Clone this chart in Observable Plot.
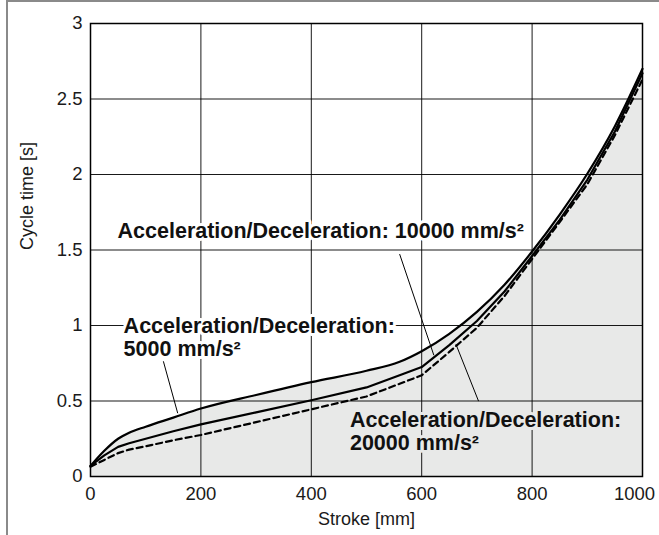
<!DOCTYPE html>
<html>
<head>
<meta charset="utf-8">
<script src="https://cdn.jsdelivr.net/npm/d3@7"></script>
<script src="https://cdn.jsdelivr.net/npm/@observablehq/plot@0.6"></script>
<style>
  html, body { margin: 0; padding: 0; background: #fff; }
  #wrap { position: relative; width: 659px; height: 535px; overflow: hidden; }
  #border { position: absolute; left: 6px; top: 0; right: -10px; bottom: -10px;
            border-top: 2px solid #8a8a8a; border-left: 2px solid #8a8a8a; pointer-events: none; }
</style>
</head>
<body>
<div id="wrap"><div id="border"></div></div>
<script>
// Data
const strokeMm = [0, 25, 50, 70, 100, 150, 200, 300, 400, 500, 560, 600, 650, 700, 750, 800, 850, 900, 950, 1000];
const time5000  = [0.07, 0.17, 0.25, 0.29, 0.33, 0.39, 0.45, 0.54, 0.625, 0.70, 0.76, 0.83, 0.945, 1.09, 1.27, 1.49, 1.735, 2.005, 2.32, 2.70];
const time10000 = [0.07, 0.14, 0.196, 0.22, 0.25, 0.30, 0.345, 0.425, 0.505, 0.59, 0.671, 0.725, 0.87, 1.03, 1.225, 1.46, 1.70, 1.965, 2.285, 2.67];
const time20000 = [0.065, 0.11, 0.155, 0.178, 0.20, 0.24, 0.275, 0.36, 0.445, 0.53, 0.614, 0.67, 0.825, 0.985, 1.195, 1.44, 1.685, 1.935, 2.26, 2.63];

const xTicksMain = [0, 200, 400, 600, 800];
const xTickLast = [1000];
const yTicks = [0, 0.5, 1, 1.5, 2, 2.5, 3];
const xTitle = "Stroke [mm]";
const yTitle = "Cycle time [s]";

// Annotation labels (anchor in data units) and their leader lines
const labelText = ["Acceleration/Deceleration: 10000 mm/s²", "Acceleration/Deceleration:\n5000 mm/s²", "Acceleration/Deceleration:\n20000 mm/s²"];
const labelX = [49, 60, 470];
const labelY = [1.69, 1.058, 0.44];
const labelHalo = ["white", "white", "#e8e9e8"];
const leaderX1 = [560, 132, 703];
const leaderY1 = [1.473, 0.763, 0.499];
const leaderX2 = [622, 158, 662];
const leaderY2 = [0.803, 0.419, 0.876];

const s5000 = strokeMm.map((x, i) => ({x, y: time5000[i]}));
const s10000 = strokeMm.map((x, i) => ({x, y: time10000[i]}));
const s20000 = strokeMm.map((x, i) => ({x, y: time20000[i]}));
const labels = labelText.map((t, i) => ({t, x: labelX[i], y: labelY[i], halo: labelHalo[i]}));
const leaders = leaderX1.map((x1, i) => ({x1, y1: leaderY1[i], x2: leaderX2[i], y2: leaderY2[i]}));

const font = "'Liberation Sans', Arial, Helvetica, sans-serif";

const chart = Plot.plot({
  width: 659,
  height: 535,
  marginLeft: 90,
  marginRight: 17,
  marginTop: 23,
  marginBottom: 59,
  style: {fontFamily: font, fontSize: "18px", color: "#1a1a1a", background: "transparent", overflow: "visible"},
  x: {domain: [0, 1000], label: null},
  y: {domain: [0, 3], label: null},
  marks: [
    Plot.areaY(s5000, {x: "x", y: "y", fill: "#e8e9e8", curve: "monotone-x"}),
    Plot.gridX([...xTicksMain, ...xTickLast], {stroke: "#000", strokeOpacity: 0.9, strokeWidth: 1}),
    Plot.gridY(yTicks, {stroke: "#000", strokeOpacity: 0.9, strokeWidth: 1}),
    Plot.link(leaders, {x1: "x1", y1: "y1", x2: "x2", y2: "y2", stroke: "#000", strokeWidth: 1}),
    Plot.line(s20000, {x: "x", y: "y", stroke: "#000", strokeWidth: 2.2, strokeDasharray: "6,4"}),
    Plot.line(s10000, {x: "x", y: "y", stroke: "#000", strokeWidth: 2.2}),
    Plot.line(s5000, {x: "x", y: "y", stroke: "#000", strokeWidth: 2.2, curve: "monotone-x"}),
    Plot.text(labels, {x: "x", y: "y", text: "t", textAnchor: "start", lineAnchor: "top", lineHeight: 1.08,
      fontSize: 21.5, fontWeight: "bold", fill: "#111", stroke: "halo", strokeWidth: 6, paintOrder: "stroke"}),
    Plot.frame({stroke: "#000", strokeWidth: 1.5}),
    Plot.axisX(xTicksMain, {tickSize: 0, tickPadding: 10.5, fontSize: 18.5, tickFormat: d => String(d), label: null}),
    Plot.axisX(xTickLast, {tickSize: 0, tickPadding: 10.5, fontSize: 18.5, tickFormat: d => String(d), label: null, dx: -8}),
    Plot.axisY(yTicks, {tickSize: 0, tickPadding: 8, fontSize: 18.5, tickFormat: d => String(d), label: null}),
    Plot.text([xTitle], {frameAnchor: "bottom", text: d => d, dy: 43, fontSize: 18, lineAnchor: "middle"}),
    Plot.text([yTitle], {frameAnchor: "left", text: d => d, dx: -63, rotate: -90, fontSize: 18, lineAnchor: "middle"})
  ]
});
document.getElementById("wrap").prepend(chart);
</script>
</body>
</html>
